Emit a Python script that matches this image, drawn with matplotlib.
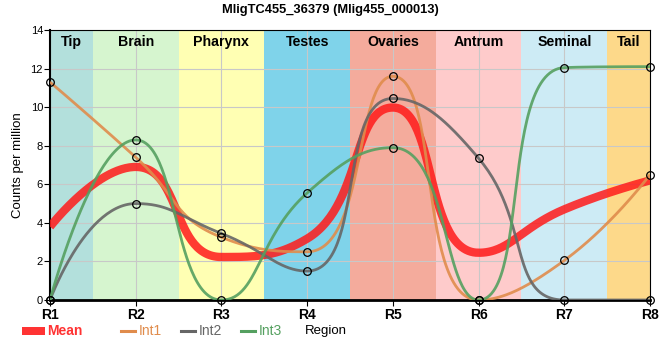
import numpy as np
import matplotlib
matplotlib.use("Agg")
import matplotlib.pyplot as plt
from matplotlib.patches import Rectangle
from matplotlib.lines import Line2D

plt.rcParams['font.family'] = ['Liberation Sans', 'DejaVu Sans']

# values
regions = ["R1", "R2", "R3", "R4", "R5", "R6", "R7", "R8"]
int1 = [11.3, 7.4, 3.25, 2.5, 11.6, 0.0, 2.05, 6.5]
int2 = [0.0, 5.0, 3.45, 1.5, 10.45, 7.35, 0.0, 0.0]
int3 = [0.0, 8.3, 0.0, 5.55, 7.9, 0.0, 12.05, 12.1]
mean = [3.8, 6.9, 2.23, 3.18, 9.98, 2.45, 4.7, 6.2]

tissues = ["Tip", "Brain", "Pharynx", "Testes", "Ovaries", "Antrum", "Seminal", "Tail"]
tissue_colors = ["#b3e0dc", "#d6f5cf", "#ffffb3", "#7fd3ea", "#f4ab9c",
                 "#fecbcb", "#cdebf5", "#fdd98a"]

YMAX = 14
AX_W, AX_H = 600.0, 270.0  # axes size in pixels


def smooth_curve(vals, smooth=0.5, n=60):
    # bezier smoothing with control points kept inside each segment's range
    px = [i * AX_W / (len(vals) - 1) for i in range(len(vals))]
    py = [v * AX_H / YMAX for v in vals]
    outx, outy = [px[0]], [py[0]]
    cx0, cy0 = px[0], py[0]
    for i in range(1, len(px)):
        x, y = px[i], py[i]
        x0, y0 = px[i - 1], py[i - 1]
        cx1, cy1 = x, y
        if i == len(px) - 1:
            ncx, ncy = x, y
        else:
            x2, y2 = px[i + 1], py[i + 1]
            vx, vy = x2 - x0, y2 - y0
            lp = np.hypot(x - x0, y - y0)
            ln = np.hypot(x2 - x, y2 - y)
            r = ln / (ln + lp)
            cx1 = x + vx * smooth * r
            cy1 = y + vy * smooth * r
            cx1 = max(min(cx1, max(x2, x)), min(x2, x))
            cy1 = max(min(cy1, max(y2, y)), min(y2, y))
            vx, vy = cx1 - x, cy1 - y
            ncx = x - vx * lp / ln
            ncy = y - vy * lp / ln
            ncx = max(min(ncx, max(x0, x)), min(x0, x))
            ncy = max(min(ncy, max(y0, y)), min(y0, y))
            vx, vy = x - ncx, y - ncy
            cx1 = x + vx * ln / lp
            cy1 = y + vy * ln / lp
        t = np.linspace(0, 1, n)[1:]
        bx = (1 - t)**3 * x0 + 3 * (1 - t)**2 * t * cx0 + 3 * (1 - t) * t**2 * ncx + t**3 * x
        by = (1 - t)**3 * y0 + 3 * (1 - t)**2 * t * cy0 + 3 * (1 - t) * t**2 * ncy + t**3 * y
        outx.extend(bx)
        outy.extend(by)
        cx0, cy0 = cx1, cy1
    outx = np.array(outx) * (len(vals) - 1) / AX_W
    outy = np.array(outy) * YMAX / AX_H
    return outx, outy


fig = plt.figure(figsize=(6.6, 3.6), dpi=100)
ax = fig.add_axes([50 / 660, 60 / 360, AX_W / 660, AX_H / 360])

for i, (name, col) in enumerate(zip(tissues, tissue_colors)):
    lo = max(i - 0.5, 0)
    hi = min(i + 0.5, len(regions) - 1)
    ax.axvspan(lo, hi, color=col, lw=0, zorder=0)
    ax.text((lo + hi) / 2, 13.36, name, ha='center', va='center',
            fontsize=10.2, fontweight='bold', zorder=5)

ax.set_xlim(0, len(regions) - 1)
ax.set_ylim(0, YMAX)
ax.set_yticks(range(0, YMAX + 1, 2))
ax.set_xticks(range(len(regions)))
ax.set_xticklabels(regions, fontweight='bold', fontsize=10)
ax.tick_params(axis='y', labelsize=8, length=4, pad=1)
ax.tick_params(axis='x', length=4, pad=2)
ax.grid(True, color='#c8c8c8', lw=0.8, zorder=1)

mx, my = smooth_curve(mean)
ax.plot(mx, my, color='#ff1a1a', lw=6, alpha=0.85, zorder=3, solid_capstyle='butt')

series = [(int1, "#e08c4c", "Int1"), (int2, "#666666", "Int2"), (int3, "#55a060", "Int3")]
for vals, col, lab in series:
    cx, cy = smooth_curve(vals)
    ax.plot(cx, cy, color=col, lw=2.0, alpha=0.9, zorder=4, solid_capstyle='butt')

for vals, col, lab in series:
    ax.plot(range(len(vals)), vals, 'o', mfc='none', mec='black', ms=5.5, mew=0.9,
            zorder=6, clip_on=False)

for side in ['right', 'top']:
    ax.spines[side].set_linewidth(0.8)
ax.spines['bottom'].set_linewidth(2)
ax.spines['left'].set_linewidth(1.5)

ax.set_ylabel("Counts per million", fontsize=9.5, labelpad=5)
fig.text(326 / 660, 1 - 331 / 360, "Region", ha='center', va='center', fontsize=9.5)
fig.text(0.5, 1 - 10 / 360, "MligTC455_36379 (Mlig455_000013)", ha='center', va='center',
         fontsize=9.3, fontweight='bold')

# legend row under the axis
leg_y = 1 - 331 / 360
labels = ["Mean", "Int1", "Int2", "Int3"]
leg_colors = ['#ff3333', '#e08c4c', '#666666', '#55a060']
leg_x = [22, 121, 181, 241]
fig.patches.append(Rectangle((leg_x[0] / 660, leg_y - 4 / 360), 23 / 660, 8 / 360,
                             transform=fig.transFigure, color='#ff3333', lw=0))
for k in range(1, 4):
    fig.lines.append(Line2D([leg_x[k] / 660, (leg_x[k] + 14) / 660], [leg_y, leg_y],
                            transform=fig.transFigure, color=leg_colors[k], lw=2.2))
text_x = [47, 139, 199, 259]
for k, (lab, col) in enumerate(zip(labels, leg_colors)):
    fig.text(text_x[k] / 660, leg_y, lab, color=col, ha='left', va='center',
             fontsize=10, fontweight='bold' if k == 0 else 'normal')

fig.savefig("out.png", dpi=100)
